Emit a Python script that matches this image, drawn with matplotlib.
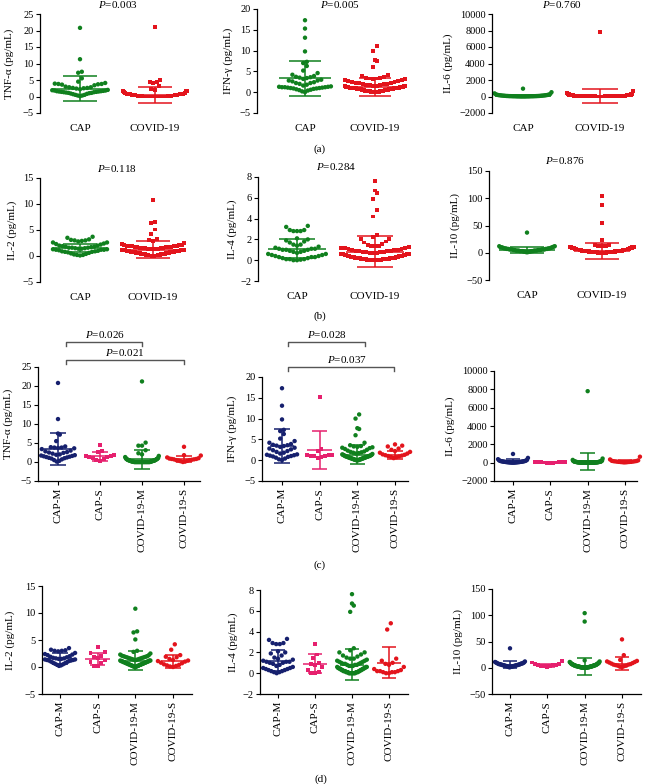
import numpy as np
import matplotlib
matplotlib.use('Agg')
import matplotlib.pyplot as plt
from matplotlib.transforms import blended_transform_factory

plt.rcParams['font.family'] = ['Liberation Serif', 'DejaVu Serif']
plt.rcParams['mathtext.fontset'] = 'custom'
plt.rcParams['mathtext.rm'] = 'Liberation Serif'
plt.rcParams['mathtext.it'] = 'Liberation Serif:italic'

# %% data (pg/mL), subgroups: CAP-M, CAP-S, COVID-19-M, COVID-19-S
tnf_cap_m = [20.8, 11.3, 7.5, 7.2, 5.5, 4.1, 3.9, 3.8, 3.8, 3.7, 3.6, 3.4, 3.0, 2.8, 2.6, 2.5, 2.4,
             2.2, 2.0, 1.9, 1.8, 1.7, 1.6, 1.5, 1.4, 1.3, 1.2, 1.1, 1.0, 0.9, 0.7, 0.5, 0.3, 0.1]
tnf_cap_s = [4.5, 2.8, 2.6, 1.8, 1.6, 1.5, 1.4, 1.3, 1.1, 0.8, 0.5, 0.3]
tnf_cov_m = [21.2, 5.1, 4.3, 4.3, 3.1, 2.3, 2.0, 1.6, 1.3, 1.1, 1.0, 0.9, 0.8, 0.8, 0.7, 0.7,
             0.6, 0.6, 0.5, 0.5, 0.5, 0.4, 0.4, 0.4, 0.3, 0.3, 0.3, 0.3, 0.2, 0.2, 0.2, 0.2,
             0.1, 0.1, 0.1, 0.1, 0.1, 0.0, 0.0, 0.0, 0.0, 0.0, 0.0, 0.0, 0.0, 0.0, 0.0, 0.0,
             0.0, 0.0, 0.0, 0.0, 0.0, 0.0, 0.0, 0.0, 0.0, 0.0, 0.0, 0.0, 0.0, 0.0, 0.0, 0.0]
tnf_cov_s = [4.0, 1.8, 1.7, 1.2, 1.0, 0.9, 0.8, 0.8, 0.7, 0.7, 0.6, 0.5, 0.5, 0.4, 0.3, 0.2, 0.1, 0.0]

ifn_cap_m = [17.3, 13.1, 9.8, 7.3, 7.0, 6.3, 5.2, 4.6, 4.2, 3.9, 3.7, 3.6, 3.5, 3.4, 3.2, 3.0, 2.8,
             2.6, 2.4, 2.2, 2.0, 1.8, 1.6, 1.4, 1.3, 1.2, 1.1, 1.0, 0.9, 0.8, 0.6, 0.4, 0.2, 0.0]
ifn_cap_s = [15.3, 2.8, 2.2, 1.3, 1.2, 1.2, 1.1, 1.0, 0.9, 0.7, 0.5]
ifn_cov_m = [11.0, 10.0, 7.7, 7.5, 6.0, 4.2, 3.6, 3.4, 3.3, 3.2, 3.1, 3.0, 2.9, 2.7, 2.5, 2.3,
             2.1, 2.0, 1.9, 1.8, 1.7, 1.6, 1.5, 1.4, 1.3, 1.3, 1.2, 1.2, 1.1, 1.1, 1.0, 1.0,
             1.0, 0.9, 0.9, 0.9, 0.8, 0.8, 0.8, 0.7, 0.7, 0.7, 0.6, 0.6, 0.6, 0.5, 0.5, 0.5,
             0.4, 0.4, 0.4, 0.3, 0.3, 0.3, 0.2, 0.2, 0.2, 0.1, 0.1, 0.1, 0.0, 0.0, 0.0, 0.0]
ifn_cov_s = [3.8, 3.5, 3.3, 2.8, 2.5, 2.2, 2.0, 1.8, 1.6, 1.4, 1.3, 1.2, 1.1, 1.0, 0.9, 0.8, 0.7, 0.5]

il6_cap_m = [950, 520, 380, 300, 260, 230, 210, 190, 170, 160, 150, 140, 130, 120, 110, 100, 95,
             90, 80, 70, 65, 60, 55, 50, 45, 40, 35, 30, 25, 20, 15, 10, 8, 5]
il6_cap_s = [60, 45, 40, 35, 30, 25, 20, 15, 12, 10, 5]
il6_cov_m = [7800, 450, 300, 250, 200, 180, 160, 150, 140, 130, 120, 110, 100, 95, 90, 85,
             80, 75, 70, 65, 60, 55, 50, 48, 45, 42, 40, 38, 35, 32, 30, 28,
             26, 24, 22, 20, 18, 16, 15, 14, 13, 12, 11, 10, 9, 8, 8, 7,
             7, 6, 6, 5, 5, 4, 4, 3, 3, 3, 2, 2, 2, 1, 1, 1]
il6_cov_s = [650, 350, 250, 200, 180, 160, 150, 140, 120, 110, 100, 90, 80, 70, 60, 50, 40, 30]

il2_cap_m = [3.5, 3.2, 3.1, 3.0, 3.0, 2.9, 2.6, 2.4, 2.3, 2.2, 2.0, 1.9, 1.8, 1.7, 1.6, 1.6, 1.5,
             1.5, 1.4, 1.4, 1.3, 1.3, 1.2, 1.2, 1.1, 1.0, 0.9, 0.8, 0.7, 0.6, 0.5, 0.4, 0.3, 0.2]
il2_cap_s = [3.7, 2.8, 2.6, 2.0, 1.8, 1.6, 1.2, 0.9, 0.8, 0.2, 0.1]
il2_cov_m = [10.8, 6.6, 6.4, 5.1, 3.0, 2.8, 2.5, 2.3, 2.2, 2.1, 2.0, 2.0, 1.9, 1.9, 1.8, 1.8,
             1.7, 1.7, 1.6, 1.6, 1.5, 1.5, 1.4, 1.4, 1.3, 1.3, 1.2, 1.2, 1.2, 1.1, 1.1, 1.1,
             1.0, 1.0, 1.0, 0.9, 0.9, 0.9, 0.8, 0.8, 0.8, 0.7, 0.7, 0.7, 0.6, 0.6, 0.6, 0.5,
             0.5, 0.5, 0.4, 0.4, 0.4, 0.3, 0.3, 0.3, 0.2, 0.2, 0.2, 0.1, 0.1, 0.1, 0.0, 0.0]
il2_cov_s = [4.2, 3.2, 2.2, 1.9, 1.8, 1.5, 1.3, 1.2, 1.1, 1.0, 0.8, 0.7, 0.5, 0.4, 0.3, 0.2, 0.1, 0.0]

il4_cap_m = [3.3, 3.2, 2.9, 2.9, 2.8, 2.8, 2.1, 2.0, 1.9, 1.7, 1.5, 1.4, 1.3, 1.2, 1.1, 1.1, 1.1,
             1.0, 1.0, 0.9, 0.8, 0.7, 0.6, 0.5, 0.5, 0.4, 0.4, 0.3, 0.3, 0.2, 0.2, 0.1, 0.1, 0.0]
il4_cap_s = [2.8, 1.8, 1.5, 1.0, 0.9, 0.8, 0.6, 0.3, 0.1, 0.05, 0.0]
il4_cov_m = [7.6, 6.7, 6.5, 5.9, 2.4, 2.2, 2.0, 2.0, 1.8, 1.7, 1.6, 1.5, 1.4, 1.4, 1.3, 1.2,
             1.2, 1.1, 1.1, 1.0, 1.0, 0.9, 0.9, 0.9, 0.8, 0.8, 0.8, 0.7, 0.7, 0.7, 0.6, 0.6,
             0.6, 0.5, 0.5, 0.5, 0.5, 0.4, 0.4, 0.4, 0.4, 0.3, 0.3, 0.3, 0.3, 0.2, 0.2, 0.2,
             0.2, 0.2, 0.1, 0.1, 0.1, 0.1, 0.1, 0.1, 0.0, 0.0, 0.0, 0.0, 0.0, 0.0, 0.0, 0.0]
il4_cov_s = [4.8, 4.2, 1.4, 1.2, 1.0, 0.9, 0.8, 0.6, 0.4, 0.3, 0.2, 0.2, 0.2, 0.1, 0.1, 0.1, 0.0, 0.0]

il10_cap_m = [37, 12, 11, 10, 10, 9, 9, 8, 8, 8, 7, 7, 7, 6, 6, 6, 6, 5, 5, 5, 5, 4, 4, 4, 4,
              3, 3, 3, 3, 2, 2, 2, 1, 1]
il10_cap_s = [12, 10, 8, 7, 6, 6, 5, 4, 4, 3, 2]
il10_cov_m = [104, 88, 14, 12, 11, 10, 10, 9, 9, 8, 8, 8, 7, 7, 7, 6, 6, 6, 6, 5, 5, 5, 5, 5,
              4, 4, 4, 4, 4, 4, 3, 3, 3, 3, 3, 3, 3, 2, 2, 2, 2, 2, 2, 2, 2, 1, 1, 1, 1, 1,
              1, 1, 1, 1, 0, 0, 0, 0, 0, 0, 0, 0, 0, 0]
il10_cov_s = [54, 24, 15, 13, 12, 11, 10, 9, 8, 7, 6, 6, 5, 4, 4, 3, 2, 1]

# mean / SD
# (a),(b): CAP, COVID-19
ab_mean = {'tnf': [2.4, 0.4], 'ifn': [3.3, 1.2], 'il6': [70, 50],
           'il2': [1.6, 1.2], 'il4': [1.1, 0.8], 'il10': [5, 3]}
ab_sd = {'tnf': [3.8, 2.4], 'ifn': [4.1, 2.1], 'il6': [150, 850],
         'il2': [0.8, 1.6], 'il4': [0.9, 1.5], 'il10': [5, 15]}
# (c),(d): CAP-M, CAP-S, COVID-19-M, COVID-19-S
cd_mean = {'tnf': [3.3, 1.5, 0.7, 0.8], 'ifn': [3.5, 2.4, 1.3, 1.2], 'il6': [150, 25, 150, 130],
           'il2': [1.6, 1.5, 1.2, 1.1], 'il4': [1.2, 0.9, 0.8, 1.0], 'il10': [6, 5, 3, 8]}
cd_sd = {'tnf': [4.2, 1.2, 2.5, 0.9], 'ifn': [4.1, 4.6, 2.3, 0.9], 'il6': [220, 20, 950, 160],
         'il2': [1.0, 1.1, 1.7, 1.2], 'il4': [1.0, 0.9, 1.5, 1.5], 'il10': [6, 3, 16, 13]}

p_ab = {'tnf': '0.003', 'ifn': '0.005', 'il6': '0.760', 'il2': '0.118', 'il4': '0.284', 'il10': '0.876'}
ylabels = {'tnf': 'TNF-α (pg/mL)', 'ifn': 'IFN-γ (pg/mL)', 'il6': 'IL-6 (pg/mL)',
           'il2': 'IL-2 (pg/mL)', 'il4': 'IL-4 (pg/mL)', 'il10': 'IL-10 (pg/mL)'}

data = {'tnf': [tnf_cap_m, tnf_cap_s, tnf_cov_m, tnf_cov_s],
        'ifn': [ifn_cap_m, ifn_cap_s, ifn_cov_m, ifn_cov_s],
        'il6': [il6_cap_m, il6_cap_s, il6_cov_m, il6_cov_s],
        'il2': [il2_cap_m, il2_cap_s, il2_cov_m, il2_cov_s],
        'il4': [il4_cap_m, il4_cap_s, il4_cov_m, il4_cov_s],
        'il10': [il10_cap_m, il10_cap_s, il10_cov_m, il10_cov_s]}

groups2 = ['CAP', 'COVID-19']
groups4 = ['CAP-M', 'CAP-S', 'COVID-19-M', 'COVID-19-S']
col2 = ['#10801e', '#e3141c']
col4 = ['#16206e', '#e6206e', '#10801e', '#e3141c']
mk2 = ['o', 's']
mk4 = ['o', 's', 'o', 'o']

ylims = {'tnf': (-5, 25, 5), 'ifn': (-5, 20, 5), 'il6': (-2000, 10000, 2000),
         'il2': (-5, 15, 5), 'il4': (-2, 8, 2), 'il10': (-50, 150, 50)}

# %% layout in pixels: key, left, right, top, bottom, first cat, last cat
W, H = 645, 784
fig = plt.figure(figsize=(W / 100, H / 100), dpi=100)

geo_ab = [('tnf', 40, 200, 14, 113, 80, 155), ('ifn', 257, 420, 9, 113, 305, 375),
          ('il6', 492, 640, 14, 113, 523, 600), ('il2', 40, 200, 178, 282, 80, 153),
          ('il4', 258, 420, 177, 281, 297, 375), ('il10', 489, 640, 171, 280, 527, 602)]
geo_cd = [('tnf', 38, 200, 367, 481, 58, 184), ('ifn', 262, 408, 377, 481, 282, 395),
          ('il6', 494, 637, 371, 481, 513, 625), ('il2', 42, 192, 586, 694, 60, 173),
          ('il4', 260, 408, 590, 694, 278, 389), ('il10', 492, 641, 589, 694, 510, 622)]
ylab_x = {('ab', 'tnf'): 9, ('ab', 'ifn'): 228, ('ab', 'il6'): 448, ('ab', 'il2'): 12,
          ('ab', 'il4'): 232, ('ab', 'il10'): 455, ('cd', 'tnf'): 8, ('cd', 'ifn'): 232,
          ('cd', 'il6'): 450, ('cd', 'il2'): 10, ('cd', 'il4'): 233, ('cd', 'il10'): 458}


def ftext(x, y, s, **kw):
    fig.text(x / W, 1 - y / H, s, ha='center', va='center', **kw)


def row_offsets(ax, vals, binh, sp, maxw):
    # prism-like scatter: bin by value, spread each row, higher values go outward
    y = ax.transData.transform(np.column_stack([np.zeros(len(vals)), vals]))[:, 1]
    order = np.argsort(y, kind='stable')
    off = np.zeros(len(vals))
    i = 0
    while i < len(order):
        j = i
        while j < len(order) and y[order[j]] < y[order[i]] + binh:
            j += 1
        idx = order[i:j]
        n = len(idx)
        s = sp if (n - 1) * sp <= 2 * maxw else 2 * maxw / (n - 1)
        slots = np.arange(n) - (n - 1) / 2.0
        slots = slots[np.argsort(np.abs(slots), kind='stable')]
        off[idx] = slots * s
        i = j
    return off


def make_ax(key, left, right, top, bottom, c0, c1, ncat):
    ax = fig.add_axes([left / W, 1 - bottom / H, (right - left) / W, (bottom - top) / H])
    unit = (c1 - c0) / (ncat - 1)
    ax.set_xlim((left - c0) / unit, (right - c0) / unit)
    lo, hi, st = ylims[key]
    ax.set_ylim(lo, hi)
    ax.set_yticks(np.arange(lo, hi + st / 2, st))
    for s in ['top', 'right']:
        ax.spines[s].set_visible(False)
    ax.spines['left'].set_linewidth(0.9)
    ax.spines['bottom'].set_linewidth(0.9)
    ax.tick_params(axis='y', labelsize=7.5, length=3, width=0.8, pad=1.5)
    ax.patch.set_alpha(0)
    return ax, unit


def draw_group(ax, xc, vals, unit, color, marker, mean, sd, hw_mean, hw_cap, wmax):
    off = row_offsets(ax, vals, 6.5, 3.6, wmax * unit) / unit
    ax.scatter(xc + off, vals, s=10 if marker == 'o' else 8, marker=marker, color=color,
               edgecolors='none', zorder=2, clip_on=False)
    kw = dict(color=color, lw=1.1, zorder=3, solid_capstyle='butt')
    ax.plot([xc - hw_mean, xc + hw_mean], [mean, mean], **kw)
    ax.plot([xc, xc], [mean - sd, mean + sd], **kw)
    for v in (mean - sd, mean + sd):
        ax.plot([xc - hw_cap, xc + hw_cap], [v, v], **kw)


# %% rows (a) and (b): CAP vs COVID-19
for key, left, right, top, bottom, c0, c1 in geo_ab:
    ax, unit = make_ax(key, left, right, top, bottom, c0, c1, 2)
    ax.spines['bottom'].set_visible(False)
    sets = [data[key][0] + data[key][1], data[key][2] + data[key][3]]
    for g in range(2):
        draw_group(ax, g, sets[g], unit, col2[g], mk2[g], ab_mean[key][g], ab_sd[key][g],
                   0.37, 0.23, [0.37, 0.43][g])
    ax.set_xticks([0, 1])
    ax.set_xticklabels(groups2, fontsize=8)
    ax.tick_params(axis='x', length=0, pad=8)
    ftext(ylab_x[('ab', key)], (top + bottom) / 2, ylabels[key], rotation=90, fontsize=8)
    ftext((c0 + c1) / 2, top - 10 if top > 100 else 4, '$P$=' + p_ab[key], fontsize=8)

# %% rows (c) and (d): severity subgroups
axes_cd = {}
for key, left, right, top, bottom, c0, c1 in geo_cd:
    ax, unit = make_ax(key, left, right, top, bottom, c0, c1, 4)
    for g in range(4):
        draw_group(ax, g, data[key][g], unit, col4[g], mk4[g], cd_mean[key][g], cd_sd[key][g],
                   0.33, 0.2, 0.4)
    ax.set_xticks(range(4))
    ax.set_xticklabels(groups4, fontsize=8, rotation=90)
    ax.tick_params(axis='x', length=3, width=0.8, pad=2)
    ftext(ylab_x[('cd', key)], (top + bottom) / 2, ylabels[key], rotation=90, fontsize=8)
    axes_cd[key] = ax

# significance brackets: key, x start, x end, bracket y px, label x px, label y px, p
brackets = [('tnf', 0.2, 2.0, 342, 105, 335, '0.026'), ('tnf', 0.2, 3.0, 360, 125, 352, '0.021'),
            ('ifn', 0.15, 2.2, 342, 327, 335, '0.028'), ('ifn', 0.15, 2.97, 367, 347, 360, '0.037')]
for key, x0, x1, yb, tx, ty, p in brackets:
    ax = axes_cd[key]
    tr = blended_transform_factory(ax.transData, fig.transFigure)
    yf = 1 - yb / H
    yt = 1 - (yb + 4) / H
    ax.plot([x0, x0, x1, x1], [yt, yf, yf, yt], transform=tr, color='#555555', lw=1.0, clip_on=False)
    ftext(tx, ty, '$P$=' + p, fontsize=8)

for lab, x, y in [('(a)', 320, 149), ('(b)', 320, 316), ('(c)', 320, 565), ('(d)', 321, 779)]:
    ftext(x, y, lab, fontsize=8)

fig.savefig('out.png', dpi=100)
